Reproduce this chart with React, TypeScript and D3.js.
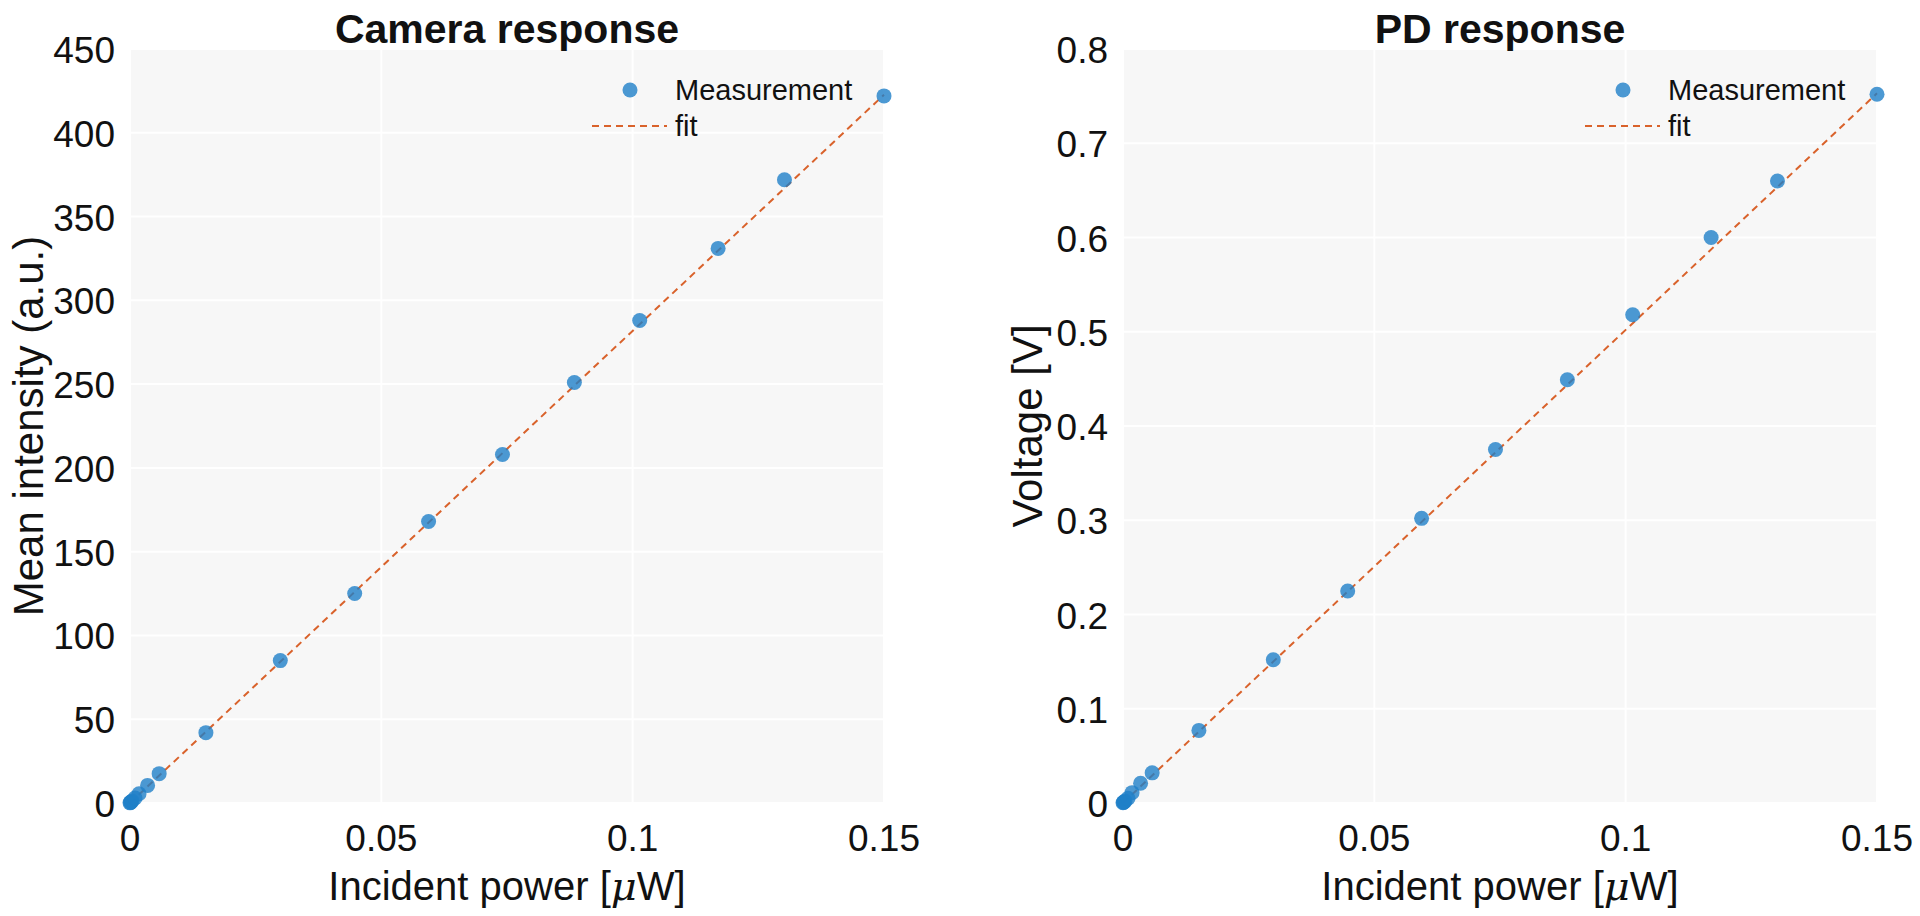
import React, { useEffect, useRef } from 'react';
import * as d3 from 'd3';

// incident power, same steps for both detectors
const powerUW = [0, 0.0001, 0.0002, 0.0004, 0.001, 0.0018, 0.0035, 0.0058, 0.0151, 0.0299, 0.0447, 0.0594, 0.0741, 0.0884, 0.1014, 0.117, 0.1302, 0.15];
const cameraMean = [0.1, 0.3, 0.6, 1.2, 3, 5.5, 10.5, 17.5, 42, 85, 125, 168, 208, 251, 288, 331, 372, 422];
const pdVoltage = [0.0002, 0.0005, 0.001, 0.002, 0.005, 0.011, 0.021, 0.032, 0.077, 0.152, 0.225, 0.302, 0.375, 0.449, 0.518, 0.6, 0.66, 0.752];

// linear fits [slope, intercept]
const cameraFit = [2818, 0];
const pdFit = [5.02, 0];
const fitRange = [0, 0.15];

const xTicks = [0, 0.05, 0.1, 0.15];
const cameraTicks = [0, 50, 100, 150, 200, 250, 300, 350, 400, 450];
const pdTicks = [0, 0.1, 0.2, 0.3, 0.4, 0.5, 0.6, 0.7, 0.8];

const legendLabels = ['Measurement', 'fit'];

const FONT = '"Liberation Sans", Arial, Helvetica, sans-serif';
const DOT = '#1f7fc8';
const FIT = '#d9622b';

const App = () => {
  const svgRef = useRef(null);

  useEffect(() => {
    const svg = d3.select(svgRef.current);
    svg.selectAll('*').remove();

    const panels = [
      { left: 130, title: 'Camera response', ylabel: 'Mean intensity (a.u.)', ys: cameraMean, fit: cameraFit, ticks: cameraTicks, ymax: 450, labelX: 43 },
      { left: 1123, title: 'PD response', ylabel: 'Voltage [V]', ys: pdVoltage, fit: pdFit, ticks: pdTicks, ymax: 0.8, labelX: 1042 },
    ];

    const top = 49;
    const bottom = 803;
    const w = 754;

    panels.forEach((p) => {
      const x = d3.scaleLinear().domain([0, 0.15]).range([p.left, p.left + w]);
      const y = d3.scaleLinear().domain([0, p.ymax]).range([bottom, top]);
      const g = svg.append('g');

      g.append('rect')
        .attr('x', p.left).attr('y', top)
        .attr('width', w).attr('height', bottom - top)
        .attr('fill', '#f7f7f7');

      // grid
      g.selectAll('.hg').data(p.ticks).enter().append('line')
        .attr('x1', p.left).attr('x2', p.left + w)
        .attr('y1', (d) => y(d)).attr('y2', (d) => y(d))
        .attr('stroke', '#ffffff').attr('stroke-width', 2);
      g.selectAll('.vg').data(xTicks).enter().append('line')
        .attr('y1', top).attr('y2', bottom)
        .attr('x1', (d) => x(d)).attr('x2', (d) => x(d))
        .attr('stroke', '#ffffff').attr('stroke-width', 2);

      // tick labels
      g.selectAll('.yt').data(p.ticks).enter().append('text')
        .attr('x', p.left - 15).attr('y', (d) => y(d) + 14)
        .attr('text-anchor', 'end')
        .attr('font-family', FONT).attr('font-size', 37).attr('fill', '#111')
        .text((d) => String(+d.toFixed(2)));
      g.selectAll('.xt').data(xTicks).enter().append('text')
        .attr('x', (d) => x(d)).attr('y', 851)
        .attr('text-anchor', 'middle')
        .attr('font-family', FONT).attr('font-size', 37).attr('fill', '#111')
        .text((d) => String(+d.toFixed(2)));

      // fit line
      const line = d3.line<number>().x((d) => x(d)).y((d) => y(p.fit[0] * d + p.fit[1]));
      g.append('path')
        .attr('d', line(fitRange))
        .attr('fill', 'none').attr('stroke', FIT)
        .attr('stroke-width', 2).attr('stroke-dasharray', '7,5');

      // measurement dots
      g.selectAll('.dot').data(powerUW).enter().append('circle')
        .attr('cx', (d) => x(d)).attr('cy', (d, i) => y(p.ys[i]))
        .attr('r', 7.5).attr('fill', DOT).attr('fill-opacity', 0.8);

      // legend
      const lx = p.left + 500;
      g.append('circle').attr('cx', lx).attr('cy', 90).attr('r', 7.5).attr('fill', DOT).attr('fill-opacity', 0.8);
      g.append('line').attr('x1', lx - 38).attr('x2', lx + 37).attr('y1', 126).attr('y2', 126)
        .attr('stroke', FIT).attr('stroke-width', 2).attr('stroke-dasharray', '7,5');
      g.selectAll('.lt').data(legendLabels).enter().append('text')
        .attr('x', lx + 45).attr('y', (d, i) => 100 + i * 36)
        .attr('font-family', FONT).attr('font-size', 29).attr('fill', '#111')
        .text((d) => d);

      // title
      g.append('text')
        .attr('x', p.left + w / 2).attr('y', 43)
        .attr('text-anchor', 'middle')
        .attr('font-family', FONT).attr('font-size', 41).attr('font-weight', 'bold').attr('fill', '#111')
        .text(p.title);

      // x label
      const xl = g.append('text')
        .attr('x', p.left + w / 2).attr('y', 900)
        .attr('text-anchor', 'middle')
        .attr('font-family', FONT).attr('font-size', 40).attr('fill', '#111');
      xl.append('tspan').text('Incident power [');
      xl.append('tspan').attr('font-family', '"DejaVu Serif", serif').attr('font-style', 'italic').text('μ');
      xl.append('tspan').text('W]');

      // y label
      g.append('text')
        .attr('transform', `translate(${p.labelX},${(top + bottom) / 2}) rotate(-90)`)
        .attr('text-anchor', 'middle')
        .attr('font-family', FONT).attr('font-size', 42).attr('fill', '#111')
        .text(p.ylabel);
    });
  }, []);

  return <svg ref={svgRef} width={1920} height={916} style={{ position: 'absolute', left: 0, top: 0, background: '#fff' }}></svg>;
};

export default App;
